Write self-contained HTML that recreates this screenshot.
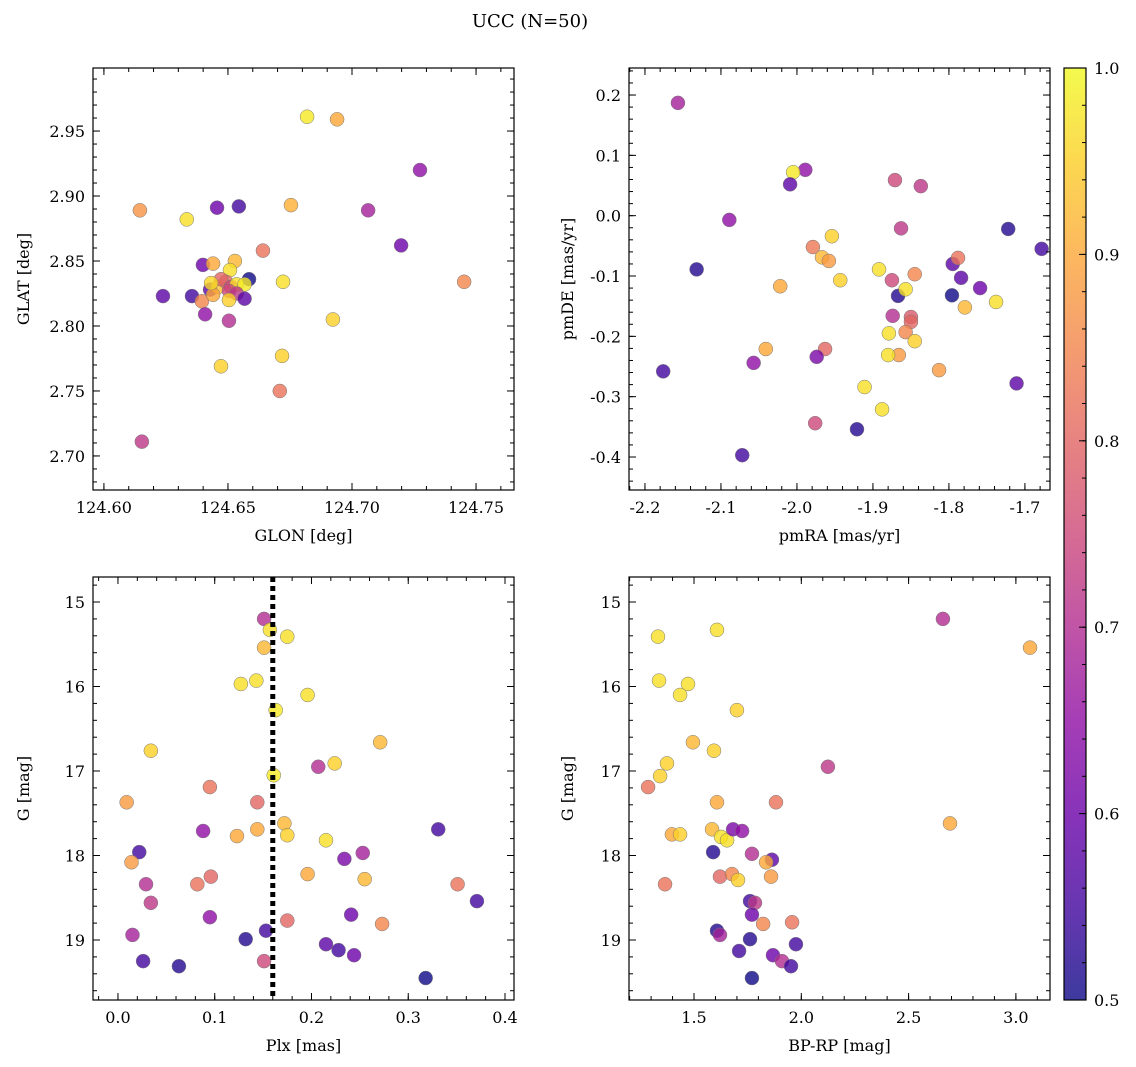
<!DOCTYPE html>
<html><head><meta charset="utf-8">
<style>
html,body{margin:0;padding:0;background:#fff;}
svg{display:block;font-family:"DejaVu Serif","Liberation Serif",serif;}
</style></head>
<body>
<svg id="fig" width="1136" height="1067" viewBox="0 0 1136 1067" xmlns="http://www.w3.org/2000/svg">
<text x="530" y="27" font-size="18" text-anchor="middle">UCC (N=50)</text>
</svg>
<script>
// ---- data ----
const glonVals=[124.6819,124.6940,124.7274,124.6145,124.6334,124.6456,124.6544,124.6754,124.7065,124.7198,124.6641,124.6399,124.6440,124.6528,124.6508,124.6585,124.6722,124.7452,124.6355,124.6238,124.6428,124.6395,124.6460,124.6492,124.6472,124.6512,124.6535,124.6567,124.6440,124.6504,124.6535,124.6504,124.6567,124.6432,124.6408,124.6504,124.6923,124.6718,124.6472,124.6709,124.6153];
const glatVals=[2.961,2.959,2.920,2.889,2.882,2.891,2.892,2.893,2.889,2.862,2.858,2.847,2.848,2.850,2.843,2.836,2.834,2.834,2.823,2.823,2.828,2.819,2.830,2.834,2.836,2.830,2.832,2.832,2.824,2.827,2.825,2.820,2.821,2.833,2.809,2.804,2.805,2.777,2.769,2.750,2.711];
const probTL=[0.98,0.90,0.65,0.87,0.97,0.60,0.55,0.91,0.68,0.60,0.82,0.60,0.90,0.92,0.97,0.50,0.97,0.85,0.55,0.58,0.58,0.85,0.93,0.80,0.80,0.75,0.97,0.98,0.90,0.75,0.72,0.95,0.58,0.96,0.65,0.70,0.95,0.95,0.95,0.82,0.72];

const pmraVals=[-2.1566,-1.989,-2.005,-2.009,-1.871,-1.837,-2.089,-1.722,-1.678,-1.863,-2.132,-1.979,-1.954,-1.967,-1.958,-1.943,-1.892,-1.845,-1.795,-1.788,-1.784,-1.875,-2.022,-1.867,-1.857,-1.759,-1.796,-1.738,-1.779,-1.874,-1.850,-1.850,-1.857,-1.879,-1.845,-1.866,-1.880,-2.041,-1.963,-1.974,-2.057,-1.813,-2.176,-1.711,-1.911,-1.888,-1.976,-1.921,-2.072];
const pmdeVals=[0.187,0.076,0.072,0.052,0.059,0.049,-0.007,-0.022,-0.055,-0.021,-0.089,-0.052,-0.034,-0.069,-0.075,-0.107,-0.089,-0.097,-0.080,-0.070,-0.103,-0.107,-0.117,-0.133,-0.122,-0.120,-0.132,-0.143,-0.152,-0.166,-0.168,-0.176,-0.193,-0.195,-0.208,-0.231,-0.231,-0.221,-0.221,-0.234,-0.244,-0.256,-0.258,-0.278,-0.284,-0.321,-0.344,-0.354,-0.397];
const probTR=[0.68,0.65,0.98,0.58,0.75,0.72,0.65,0.52,0.55,0.72,0.52,0.83,0.95,0.92,0.88,0.95,0.97,0.85,0.58,0.82,0.58,0.75,0.90,0.52,0.97,0.60,0.50,0.97,0.92,0.70,0.78,0.80,0.85,0.97,0.95,0.88,0.97,0.90,0.80,0.62,0.65,0.88,0.55,0.58,0.97,0.97,0.75,0.52,0.55];

const plxVals=[0.151,0.157,0.151,0.175,0.127,0.143,0.163,0.196,0.034,0.271,0.207,0.224,0.161,0.009,0.095,0.144,0.088,0.123,0.144,0.172,0.175,0.215,0.331,0.022,0.014,0.253,0.234,0.196,0.255,0.096,0.082,0.029,0.034,0.351,0.371,0.095,0.175,0.241,0.273,0.015,0.153,0.132,0.215,0.026,0.063,0.151,0.228,0.244,0.318];
const gPlxVals=[15.20,15.33,15.54,15.41,15.97,15.93,16.28,16.10,16.76,16.66,16.95,16.91,17.05,17.37,17.19,17.37,17.71,17.77,17.69,17.62,17.76,17.82,17.69,17.96,18.08,17.97,18.04,18.22,18.28,18.25,18.34,18.34,18.56,18.34,18.54,18.73,18.77,18.70,18.81,18.94,18.89,18.99,19.05,19.25,19.31,19.25,19.12,19.18,19.45];
const probBL=[0.70,0.97,0.92,0.97,0.97,0.97,0.98,0.97,0.95,0.92,0.70,0.95,0.98,0.88,0.82,0.80,0.65,0.90,0.90,0.92,0.95,0.97,0.55,0.55,0.88,0.68,0.62,0.90,0.92,0.80,0.82,0.70,0.72,0.82,0.55,0.65,0.80,0.60,0.85,0.68,0.55,0.52,0.58,0.55,0.52,0.75,0.55,0.60,0.50];
const plxCut=0.160;

const bprpVals=[2.660,3.066,1.607,1.332,1.337,1.472,1.435,1.700,1.495,1.593,1.374,1.342,2.124,1.286,1.607,1.882,2.693,1.397,1.435,1.584,1.626,1.654,1.682,1.724,1.589,1.770,1.863,1.621,1.677,1.705,1.365,1.859,1.836,1.761,1.784,1.770,1.822,1.957,1.607,1.621,1.761,1.710,1.975,1.868,1.910,1.952,1.770];
const gCmdVals=[15.20,15.54,15.33,15.41,15.93,15.97,16.10,16.28,16.66,16.76,16.91,17.06,16.95,17.19,17.37,17.37,17.62,17.75,17.75,17.69,17.78,17.82,17.69,17.71,17.96,17.98,18.05,18.25,18.22,18.29,18.34,18.25,18.08,18.54,18.56,18.70,18.81,18.79,18.89,18.94,18.99,19.13,19.05,19.18,19.25,19.31,19.45];
const probBR=[0.70,0.90,0.97,0.97,0.97,0.97,0.97,0.95,0.92,0.95,0.95,0.95,0.72,0.82,0.90,0.82,0.90,0.90,0.95,0.92,0.97,0.97,0.62,0.65,0.52,0.70,0.58,0.80,0.85,0.95,0.82,0.88,0.90,0.55,0.72,0.60,0.85,0.82,0.52,0.68,0.52,0.55,0.55,0.60,0.70,0.55,0.50];

// ---- helpers ----
const NS="http://www.w3.org/2000/svg";
const svg=document.getElementById('fig');
function mk(tag,attrs,parent){const e=document.createElementNS(NS,tag);for(const k in attrs)e.setAttribute(k,attrs[k]);(parent||svg).appendChild(e);return e;}
const stops=[[13,8,135],[65,4,157],[106,0,168],[143,13,164],[177,42,144],[204,71,120],[225,100,98],[242,132,75],[252,166,54],[252,206,37],[240,249,33]];
function plasma(t){t=Math.max(0,Math.min(1,t));const f=t*10,i=Math.min(9,Math.floor(f)),u=f-i;const a=stops[i],b=stops[i+1];return `rgb(${a.map((v,k)=>Math.round(v+(b[k]-v)*u)).join(',')})`;}
function cmap(p){return plasma((p-0.5)/0.5);}
const ticks=(a,b,s)=>{const r=[];for(let v=Math.ceil(a/s-1e-9)*s;v<=b+1e-9;v+=s)r.push(Math.round(v/s)*s);return r;};

function panel(name,box,xr,yr,xMaj,xMin,yMaj,yMin,xDec,yDec,xlab,ylab,xs,ys,cs,invY){
  const [L,T,W,H]=box;
  const g=mk('g',{});
  
  
  const X=v=>L+(v-xr[0])/(xr[1]-xr[0])*W;
  const Y=invY?(v=>T+(v-yr[0])/(yr[1]-yr[0])*H):(v=>T+H-(v-yr[0])/(yr[1]-yr[0])*H);
  const yLo=Math.min(...yr),yHi=Math.max(...yr);
  const pts=mk('g',{},g);
  
  
  xs.forEach((v,i)=>{const c=mk('circle',{cx:X(v),cy:Y(ys[i]),r:7,fill:cmap(cs[i]),'fill-opacity':0.8,stroke:'#777','stroke-width':0.5},pts);
    
    });
  mk('rect',{x:L,y:T,width:W,height:H,fill:'none',stroke:'#000','stroke-width':1.2},g);
  ticks(xr[0],xr[1],xMin).forEach(v=>{const x=X(v);mk('line',{x1:x,x2:x,y1:T+H,y2:T+H-4,stroke:'#000'},g);mk('line',{x1:x,x2:x,y1:T,y2:T+4,stroke:'#000'},g);});
  ticks(xr[0],xr[1],xMaj).forEach(v=>{const x=X(v);mk('line',{x1:x,x2:x,y1:T+H,y2:T+H-7,stroke:'#000'},g);mk('line',{x1:x,x2:x,y1:T,y2:T+7,stroke:'#000'},g);
    const t=mk('text',{x:x,y:T+H+23,'font-size':16,'text-anchor':'middle'},g);t.textContent=v.toFixed(xDec);
    });
  ticks(yLo,yHi,yMin).forEach(v=>{const y=Y(v);mk('line',{x1:L,x2:L+4,y1:y,y2:y,stroke:'#000'},g);mk('line',{x1:L+W,x2:L+W-4,y1:y,y2:y,stroke:'#000'},g);});
  ticks(yLo,yHi,yMaj).forEach(v=>{const y=Y(v);mk('line',{x1:L,x2:L+7,y1:y,y2:y,stroke:'#000'},g);mk('line',{x1:L+W,x2:L+W-7,y1:y,y2:y,stroke:'#000'},g);
    const t=mk('text',{x:L-8,y:y+6,'font-size':16,'text-anchor':'end'},g);t.textContent=(Math.abs(v)<1e-9?0:v).toFixed(yDec);
    });
  const xl=mk('text',{x:L+W/2,y:T+H+51,'font-size':16,'text-anchor':'middle'},g);xl.textContent=xlab;
  
  const yx=name==='panel-top-right'||name==='panel-bottom-right'?L-60:L-68;
  const yl=mk('text',{x:0,y:0,'font-size':16,'text-anchor':'middle',transform:`translate(${yx+4},${T+H/2}) rotate(-90)`},g);yl.textContent=ylab;
  
  return {X,Y,g};
}

panel('panel-top-left',[93,68,421,422],[124.5956,124.7653],[2.6738,2.9985],0.05,0.01,0.05,0.01,2,2,'GLON [deg]','GLAT [deg]',glonVals,glatVals,probTL,false);
panel('panel-top-right',[629,68,421,422],[-2.221,-1.667],[-0.4547,0.2448],0.1,0.02,0.1,0.02,1,1,'pmRA [mas/yr]','pmDE [mas/yr]',pmraVals,pmdeVals,probTR,false);
const bl=panel('panel-bottom-left',[93,577,421,423],[-0.0258,0.4093],[14.704,19.71],0.1,0.02,1,0.2,1,0,'Plx [mas]','G [mag]',plxVals,gPlxVals,probBL,true);
const cut=mk('line',{x1:bl.X(plxCut),x2:bl.X(plxCut),y1:577,y2:1000,stroke:'#000','stroke-width':5,'stroke-dasharray':'5,4'},bl.g);


panel('panel-bottom-right',[629,577,421,423],[1.197,3.159],[14.704,19.71],0.5,0.1,1,0.2,1,0,'BP-RP [mag]','G [mag]',bprpVals,gCmdVals,probBR,true);

// colorbar
const cb=mk('g',{});


const defs=mk('defs',{},cb);
const lg=mk('linearGradient',{id:'cg',x1:0,y1:1,x2:0,y2:0},defs);
for(let i=0;i<=20;i++){mk('stop',{offset:i/20,'stop-color':plasma(i/20),'stop-opacity':0.8},lg);}
const CT=68,CB=1000,CL=1064,CW=22;
mk('rect',{x:CL,y:CT,width:CW,height:CB-CT,fill:'url(#cg)',stroke:'#000','stroke-width':1.2},cb);
const CY=v=>CB-(v-0.5)/0.5*(CB-CT);
ticks(0.5,1.0,0.02).forEach(v=>{mk('line',{x1:CL+CW,x2:CL+CW-4,y1:CY(v),y2:CY(v),stroke:'#000'},cb);});
ticks(0.5,1.0,0.1).forEach(v=>{mk('line',{x1:CL+CW,x2:CL+CW-7,y1:CY(v),y2:CY(v),stroke:'#000'},cb);
  const t=mk('text',{x:CL+CW+8,y:CY(v)+6,'font-size':16},cb);t.textContent=v.toFixed(1);
  });
</script>
</body></html>
